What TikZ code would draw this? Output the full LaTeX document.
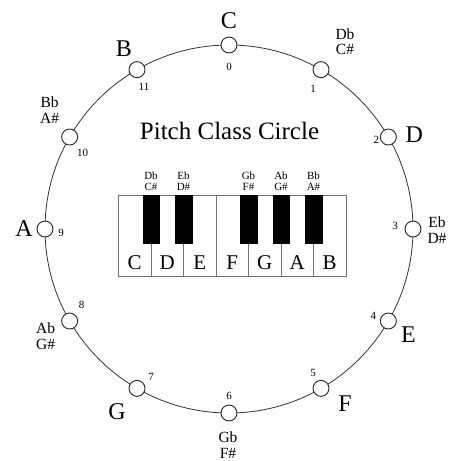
\documentclass[tikz,border=0pt]{standalone}
\usepackage{fontspec}
\setmainfont{Liberation Serif}
\usetikzlibrary{calc}
\begin{document}
\begin{tikzpicture}[x=1pt,y=-1pt,
  ring/.style={draw=black!80,line width=0.8pt},
  pc/.style={circle,draw=black!85,line width=0.9pt,fill=white,minimum size=16pt,inner sep=0pt},
  num/.style={font=\fontsize{11}{11}\selectfont,inner sep=0pt},
  note/.style={font=\fontsize{24}{24}\selectfont,inner sep=0pt},
  acc/.style={font=\fontsize{15.5}{15.5}\selectfont,align=center,inner sep=0pt},
  title/.style={font=\fontsize{25}{25}\selectfont,inner sep=0pt},
  whitekey/.style={draw=black!55,line width=0.6pt,fill=white},
  blackkey/.style={draw=black,fill=black},
  keylab/.style={font=\fontsize{21}{21}\selectfont,inner sep=0pt},
  blacklab/.style={font=\fontsize{11}{11}\selectfont,align=center,inner sep=0pt}]
\useasboundingbox (0,0) rectangle (454,461);
\fill[white] (0,0) rectangle (454,461);
% ring
\draw[ring] (229,229) circle[radius=184pt];
% pitch class nodes
\foreach \k in {0,...,11}{
  \node[pc] (n\k) at ({229+184*cos(90-30*\k)},{229-184*sin(90-30*\k)}) {};
}
% numbers
\node[num] (k0) at ($(n0)+(0,22)$) {0};
\node[num] (k1) at ($(n1)+(-8,19)$) {1};
\node[num] (k2) at ($(n2)+(-12,3)$) {2};
\node[num] (k3) at ($(n3)+(-18,-3)$) {3};
\node[num] (k4) at ($(n4)+(-15,-5)$) {4};
\node[num] (k5) at ($(n5)+(-8,-15)$) {5};
\node[num] (k6) at ($(n6)+(0,-17)$) {6};
\node[num] (k7) at ($(n7)+(14,-11)$) {7};
\node[num] (k8) at ($(n8)+(12,-16)$) {8};
\node[num] (k9) at ($(n9)+(16,4)$) {9};
\node[num] (k10) at ($(n10)+(13,16)$) {10};
\node[num] (k11) at ($(n11)+(7,17)$) {11};
% note names
\node[note] (lC) at ($(n0)+(0,-24)$) {C};
\node[note] (lD) at ($(n2)+(26,-2)$) {D};
\node[note] (lE) at ($(n4)+(20,14)$) {E};
\node[note] (lF) at ($(n5)+(24,15)$) {F};
\node[note] (lG) at ($(n7)+(-20,23)$) {G};
\node[note] (lA) at ($(n9)+(-21,0)$) {A};
\node[note] (lB) at ($(n11)+(-13,-21)$) {B};
% accidentals
\node[acc] (a1) at ($(n1)+(24,-28)$) {Db\\C\#};
\node[acc] (a3) at ($(n3)+(24,1)$) {Eb\\D\#};
\node[acc] (a6) at ($(n6)+(-1,32)$) {Gb\\F\#};
\node[acc] (a8) at ($(n8)+(-24,15)$) {Ab\\G\#};
\node[acc] (a10) at ($(n10)+(-20,-27)$) {Bb\\A\#};
% title
\node[title] (ttl) at (229.5,131) {Pitch Class Circle};
% keyboard
\foreach \i/\l in {0/C,1/D,2/E,3/F,4/G,5/A,6/B}{
  \draw[whitekey] ({118.5+32.5*\i},195) rectangle ({118.5+32.5*(\i+1)},276);
  \node[keylab] (w\l) at ({118.5+32.5*(\i+0.5)},263) {\l};
}
\foreach \i/\t in {1/{Db\\C\#},2/{Eb\\D\#},4/{Gb\\F\#},5/{Ab\\G\#},6/{Bb\\A\#}}{
  \fill[blackkey] ({118.5+32.5*\i-8.25},195) rectangle ({118.5+32.5*\i+8.25},243.5);
  \node[blacklab] (b\i) at ({118.5+32.5*\i},181) {\t};
}
\end{tikzpicture}
\end{document}
